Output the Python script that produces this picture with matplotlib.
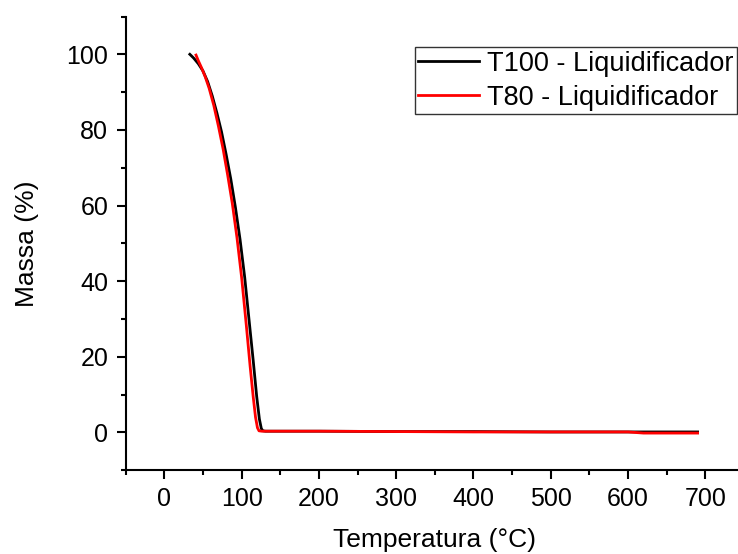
import matplotlib
matplotlib.use("Agg")
import matplotlib.pyplot as plt
from matplotlib.ticker import MultipleLocator

plt.rcParams['font.family'] = ['Liberation Sans', 'DejaVu Sans']

# TGA curves
t100_temp = [33, 38, 44, 50, 56, 62, 68, 74, 80, 86, 92, 98, 104, 110, 115, 119.5,
             123, 125.5, 127.5, 131, 200, 300, 400, 500, 600, 650, 690]
t100_mass = [100, 99, 97.5, 95.6, 92.8, 89, 84.5, 79.5, 73.5, 67, 59.5, 51, 41, 29, 19, 9.5,
             3.5, 1, 0.4, 0.3, 0.3, 0.2, 0.2, 0.1, 0.1, 0.1, 0.1]

t80_temp = [41, 44, 48, 53, 58, 64, 70, 76, 82, 88, 94, 100, 106, 111, 115, 118,
            120.5, 122.5, 126, 200, 300, 400, 500, 600, 620, 690]
t80_mass = [99.8, 98.3, 96.5, 94, 91, 86.5, 81, 75, 68, 60.5, 51.5, 41, 28.5, 17.5, 9.4, 4,
            1.2, 0.4, 0.3, 0.3, 0.2, 0.1, 0.1, 0.1, -0.2, -0.2]

labels = ['T100 - Liquidificador', 'T80 - Liquidificador']

fig = plt.figure(figsize=(7.38, 5.54), dpi=100)
ax = fig.add_axes([0.1703, 0.1514, 0.8378, 0.8188])

ax.plot(t100_temp, t100_mass, color='black', lw=2.0, label=labels[0])
ax.plot(t80_temp, t80_mass, color='red', lw=2.0, label=labels[1])

ax.set_xlim(-50, 750)
ax.set_ylim(-10, 110)
ax.xaxis.set_minor_locator(MultipleLocator(50))
ax.yaxis.set_major_locator(MultipleLocator(20))
ax.yaxis.set_minor_locator(MultipleLocator(10))
ax.set_xticks(range(0, 701, 100))
ax.set_yticks(range(0, 101, 20))

for s in ['top', 'right']:
    ax.spines[s].set_visible(False)
for s in ['left', 'bottom']:
    ax.spines[s].set_linewidth(1.5)

ax.tick_params(which='major', direction='out', length=6.5, width=1.5, labelsize=18, pad=6)
ax.tick_params(which='minor', direction='out', length=3.5, width=1.5)

ax.set_xlabel('Temperatura (°C)', fontsize=19, labelpad=12)
ax.set_ylabel('Massa (%)', fontsize=19, labelpad=20)

leg = fig.legend(loc='upper left', bbox_to_anchor=(0.5623, 0.9146), fontsize=19.5,
                 frameon=True, fancybox=False, handlelength=2.25, handletextpad=0.3,
                 borderpad=0.12, labelspacing=0.3, borderaxespad=0)
leg.get_frame().set_edgecolor('black')
leg.get_frame().set_linewidth(1.0)

fig.savefig('out.png', dpi=100)
